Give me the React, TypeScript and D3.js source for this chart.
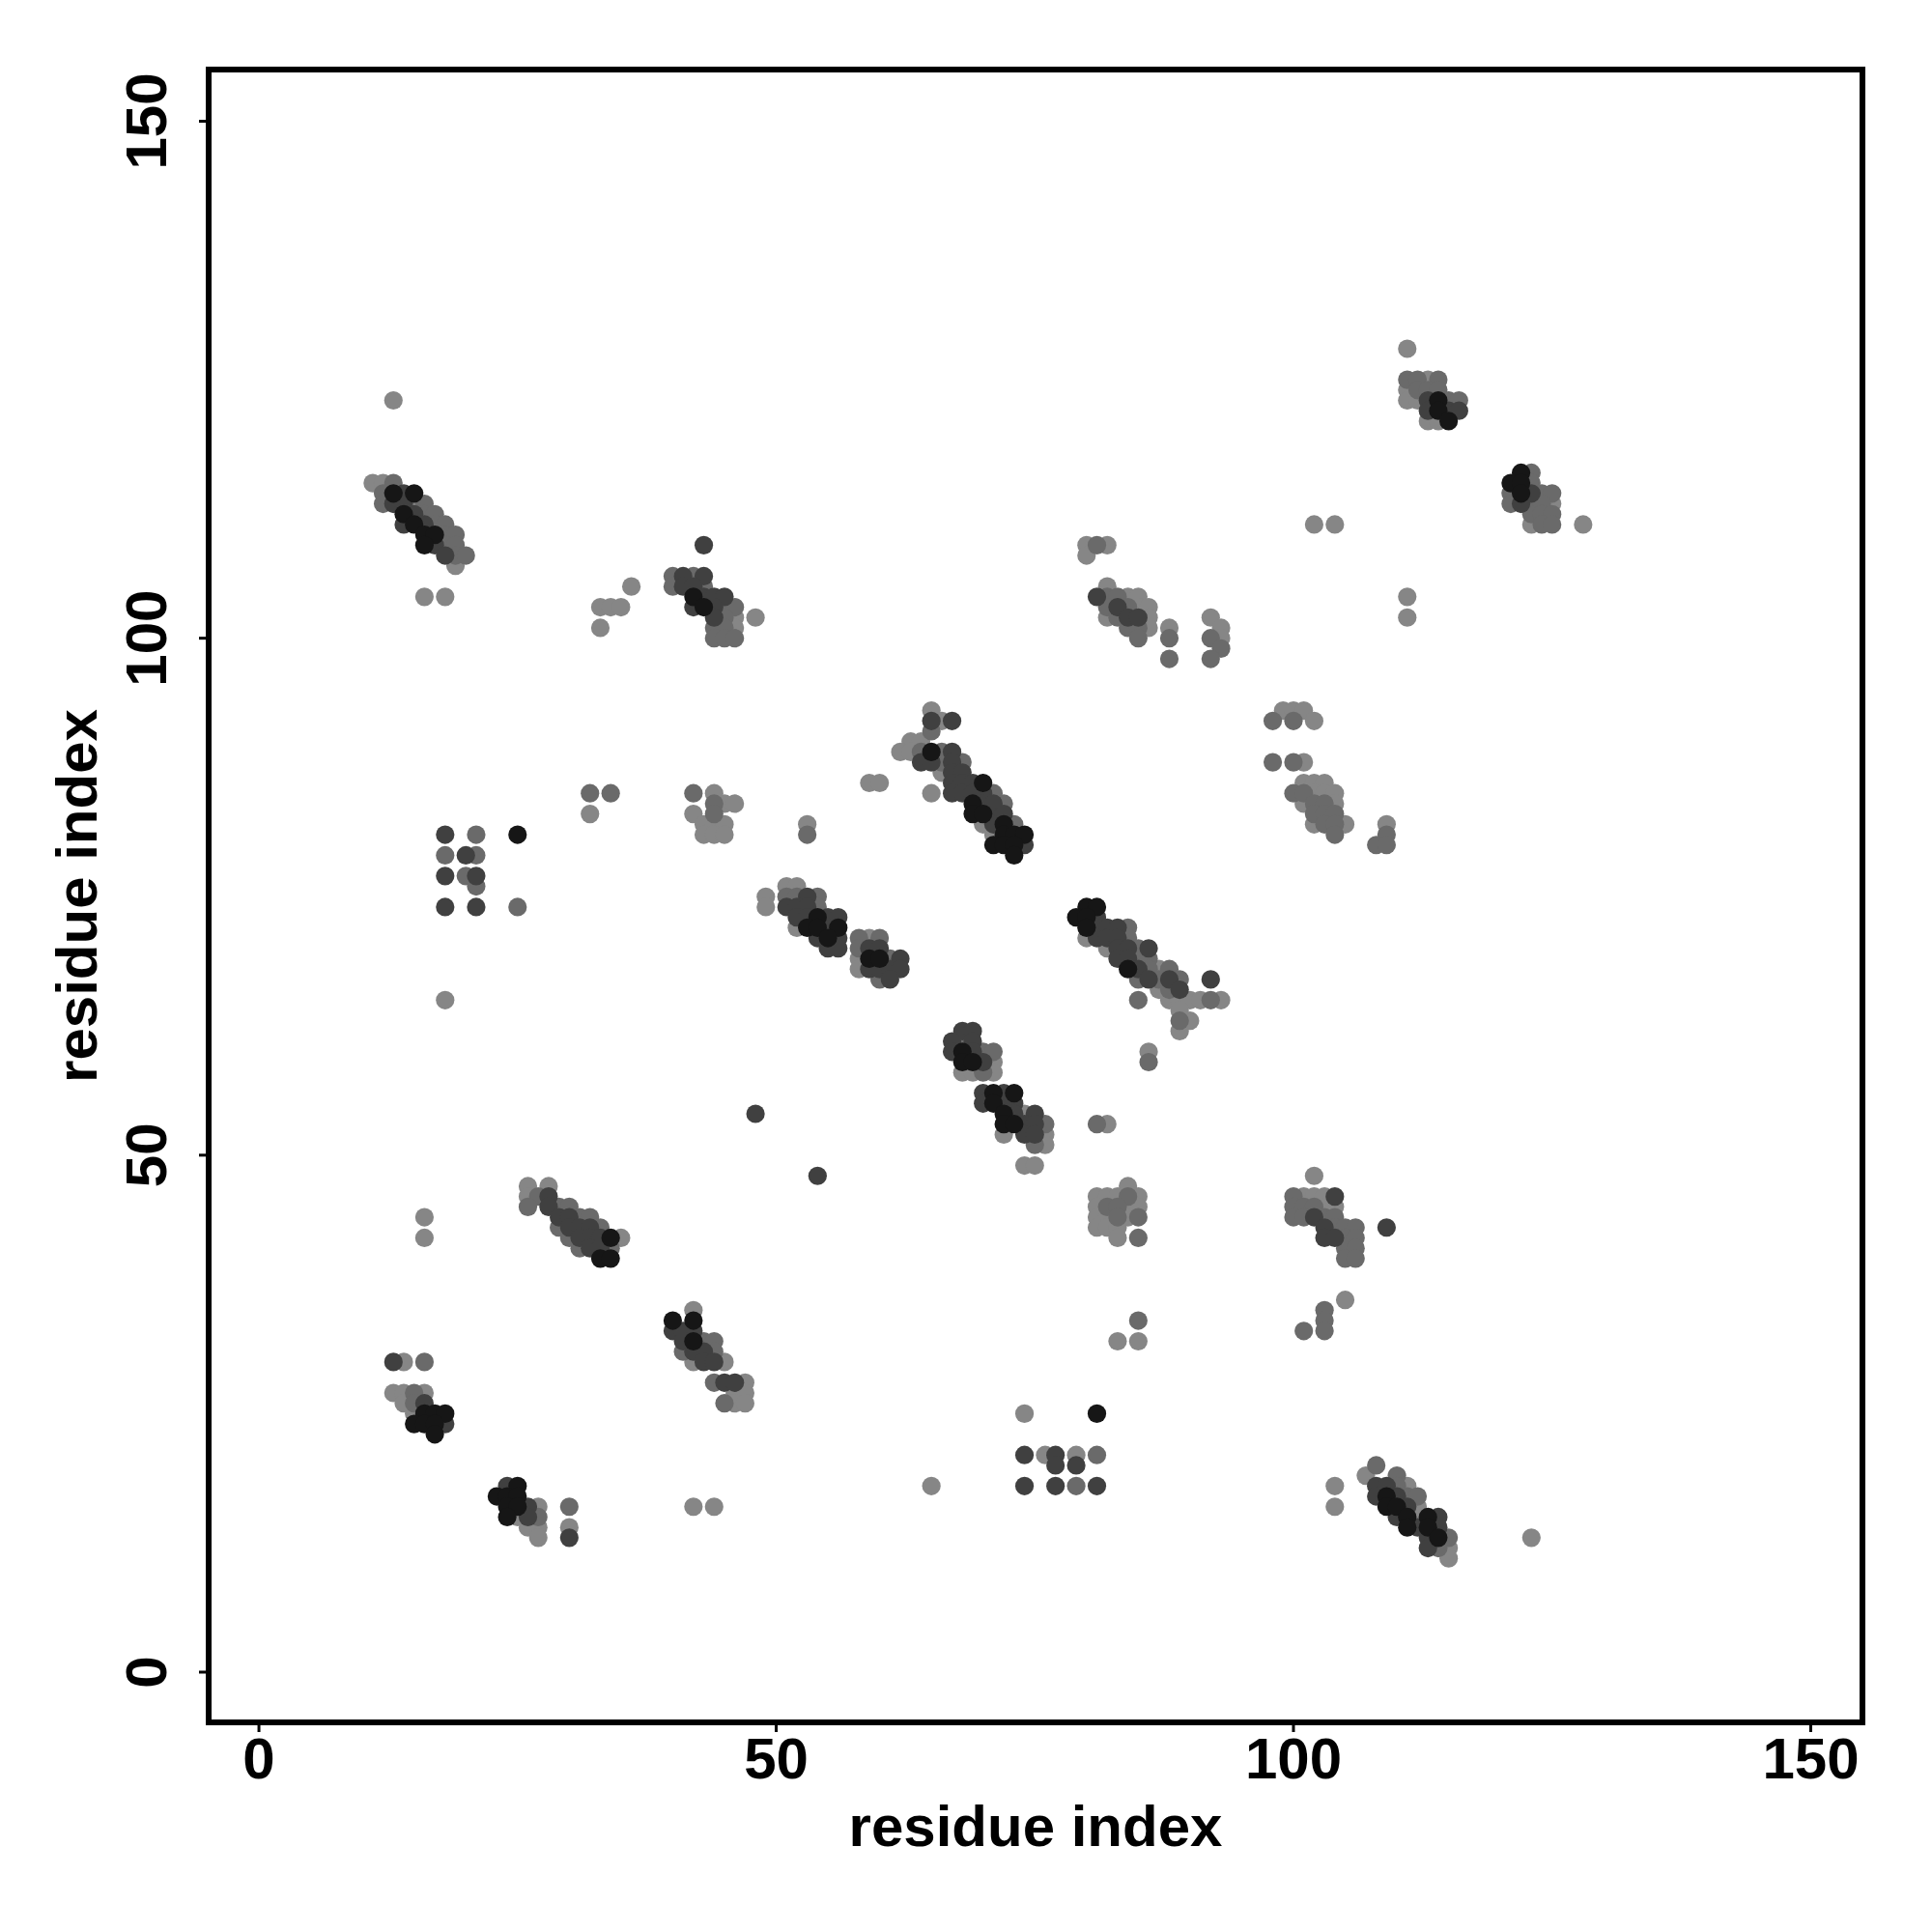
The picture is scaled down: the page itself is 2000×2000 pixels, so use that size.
import React from "react";
import * as d3 from "d3";

// contact strength levels (probability-like score)
const L = 0.1;
const M = 0.3;
const D = 0.6;
const K = 0.9;

type Pt = [number, number, number];

const xTicks = [0, 50, 100, 150];
const yTicks = [0, 50, 100, 150];
const xLabel = "residue index";
const yLabel = "residue index";

const c01: Pt[] = [
  [13, 123, L],
  [11, 115, L], [12, 115, L], [13, 115, M],
  [12, 114, M], [13, 114, K], [14, 114, D], [15, 114, K],
  [12, 113, M], [13, 113, D], [14, 113, D], [15, 113, L], [16, 113, M],
  [14, 112, K], [15, 112, D], [16, 112, M], [17, 112, M],
  [14, 111, D], [15, 111, K], [16, 111, D], [17, 111, M], [18, 111, M],
  [16, 110, K], [17, 110, K], [18, 110, M], [19, 110, M],
  [16, 109, K], [17, 109, D], [18, 109, M], [19, 109, M],
  [18, 108, D], [19, 108, M], [20, 108, M],
  [19, 107, L],
  [16, 104, L], [18, 104, L],
];

const c02: Pt[] = [
  [33, 103, L], [34, 103, L], [35, 103, L], [33, 101, L], [36, 105, L],
];

const c03: Pt[] = [
  [43, 109, D],
  [40, 106, M], [41, 106, D], [42, 106, M], [43, 106, D],
  [40, 105, M], [41, 105, D], [42, 105, D], [43, 105, M],
  [42, 104, K], [43, 104, D], [44, 104, D], [45, 104, D],
  [42, 103, D], [43, 103, K], [44, 103, D], [45, 103, M], [46, 103, M],
  [44, 102, D], [45, 102, M], [46, 102, L], [48, 102, L],
  [44, 101, M], [45, 101, M], [46, 101, L],
  [44, 100, M], [45, 100, M], [46, 100, M],
];

const c04: Pt[] = [
  [80, 109, L], [81, 109, M], [82, 109, L], [80, 108, L],
  [82, 105, L],
  [81, 104, D], [82, 104, M], [83, 104, M], [84, 104, L], [85, 104, L],
  [82, 103, M], [83, 103, D], [84, 103, M], [85, 103, L], [86, 103, L],
  [82, 102, L], [83, 102, M], [84, 102, D], [85, 102, D], [86, 102, L],
  [84, 101, M], [85, 101, M], [86, 101, L], [88, 101, L],
  [85, 100, M], [88, 100, M],
  [88, 98, M],
];

const c05: Pt[] = [
  [92, 102, L], [93, 101, L], [92, 100, M], [93, 100, L], [93, 99, M], [92, 98, M],
  [102, 111, L], [104, 111, L], [111, 104, L], [111, 102, L],
];

const c06: Pt[] = [
  [111, 128, L],
  [111, 125, M], [112, 125, M], [113, 125, L], [114, 125, M],
  [111, 124, L], [112, 124, M], [113, 124, M], [114, 124, M],
  [111, 123, L], [112, 123, L], [113, 123, D], [114, 123, K], [115, 123, M], [116, 123, M],
  [113, 122, D], [114, 122, K], [115, 122, D], [116, 122, D],
  [113, 121, L], [114, 121, L], [115, 121, K],
];

const c07: Pt[] = [
  [122, 116, K], [123, 116, M],
  [121, 115, K], [122, 115, K], [123, 115, M],
  [121, 114, M], [122, 114, K], [123, 114, D], [124, 114, M], [125, 114, M],
  [121, 113, M], [122, 113, D], [123, 113, M], [124, 113, M], [125, 113, L],
  [123, 112, M], [124, 112, M], [125, 112, M],
  [123, 111, L], [124, 111, M], [125, 111, M], [128, 111, L],
];

const c08: Pt[] = [
  [99, 93, L], [100, 93, L], [101, 93, L], [98, 92, M], [100, 92, M], [102, 92, L],
  [98, 88, M], [100, 88, M], [101, 88, L],
];

const c09: Pt[] = [
  [101, 86, L], [102, 86, L], [103, 86, L],
  [100, 85, M], [101, 85, M], [102, 85, L], [103, 85, L], [104, 85, L],
  [101, 84, L], [102, 84, M], [103, 84, M], [104, 84, L],
  [102, 83, M], [103, 83, M], [104, 83, M],
  [102, 82, L], [103, 82, M], [104, 82, M], [105, 82, L],
  [104, 81, M],
  [109, 82, L], [109, 81, M], [108, 80, M], [109, 80, M],
];

const c10: Pt[] = [
  [80, 74, K], [81, 74, K],
  [79, 73, K], [80, 73, K], [81, 73, D],
  [80, 72, K], [81, 72, D], [82, 72, D], [83, 72, D], [84, 72, M],
  [80, 71, L], [81, 71, D], [82, 71, D], [83, 71, D], [84, 71, M],
  [82, 70, L], [83, 70, D], [84, 70, D], [85, 70, M], [86, 70, D],
  [83, 69, D], [84, 69, D], [85, 69, M], [86, 69, M],
  [84, 68, K], [85, 68, D], [86, 68, M], [87, 68, L], [88, 68, M],
  [85, 67, M], [86, 67, D], [87, 67, M], [88, 67, D], [89, 67, M], [92, 67, D],
  [87, 66, L], [88, 66, M], [89, 66, D],
  [85, 65, M], [88, 65, L], [89, 65, L], [90, 65, L], [91, 65, L], [92, 65, M], [93, 65, L],
  [89, 64, L], [89, 63, M], [90, 63, L], [89, 62, L],
  [86, 60, L], [86, 59, M],
];

const c11: Pt[] = [
  [81, 53, M], [82, 53, L],
  [84, 47, L],
  [81, 46, L], [82, 46, L], [83, 46, L], [84, 46, M], [85, 46, L],
  [81, 45, L], [82, 45, M], [83, 45, M], [84, 45, L], [85, 45, L],
  [81, 44, L], [82, 44, L], [83, 44, M], [84, 44, L], [85, 44, M],
  [81, 43, L], [82, 43, L], [83, 43, L],
  [83, 42, L], [85, 42, M],
  [85, 34, M], [83, 32, L], [85, 32, L],
];

const c12: Pt[] = [
  [74, 25, L], [81, 25, K],
  [74, 21, D], [76, 21, L], [77, 21, D], [79, 21, L], [81, 21, M],
  [77, 20, D], [79, 20, D],
  [74, 18, D], [77, 18, D], [79, 18, M], [81, 18, D],
  [65, 18, L],
];

const c13: Pt[] = [
  [102, 48, L],
  [100, 46, M], [101, 46, L], [102, 46, L], [103, 46, L], [104, 46, D],
  [100, 45, M], [101, 45, M], [102, 45, M], [103, 45, L], [104, 45, L],
  [100, 44, M], [101, 44, M], [102, 44, D], [103, 44, M], [104, 44, M],
  [103, 43, D], [104, 43, M], [105, 43, M], [106, 43, M], [109, 43, D],
  [103, 42, D], [104, 42, D], [105, 42, M], [106, 42, M],
  [105, 41, M], [106, 41, M],
  [105, 40, M], [106, 40, M],
  [105, 36, L], [103, 35, M], [103, 34, M], [101, 33, M], [103, 33, M],
];

const c14: Pt[] = [
  [108, 20, M], [107, 19, L], [110, 19, M], [104, 18, L], [104, 16, L],
  [108, 18, D], [109, 18, D], [110, 18, M], [111, 18, L],
  [108, 17, D], [109, 17, K], [110, 17, D], [111, 17, M], [112, 17, M],
  [109, 16, K], [110, 16, K], [111, 16, D], [112, 16, L],
  [110, 15, D], [111, 15, K], [112, 15, L], [113, 15, K], [114, 15, D],
  [111, 14, K], [112, 14, D], [113, 14, K], [114, 14, D],
  [113, 13, D], [114, 13, K], [115, 13, M],
  [113, 12, D], [114, 12, M], [115, 12, L],
  [115, 11, L],
  [123, 13, L],
];

const c15: Pt[] = [
  [16, 44, L], [16, 42, L],
  [26, 47, L], [28, 47, L],
  [26, 46, L], [27, 46, M], [28, 46, D],
  [26, 45, M], [28, 45, D], [29, 45, M], [30, 45, M],
  [29, 44, D], [30, 44, D], [31, 44, M], [32, 44, M],
  [29, 43, M], [30, 43, D], [31, 43, D], [32, 43, D], [33, 43, M],
  [30, 42, M], [31, 42, D], [32, 42, D], [33, 42, D], [34, 42, K], [35, 42, L],
  [31, 41, M], [32, 41, D], [33, 41, D], [34, 41, M],
  [33, 40, K], [34, 40, K],
];

const c16: Pt[] = [
  [13, 30, D], [14, 30, L], [16, 30, M],
  [13, 27, L], [14, 27, L], [15, 27, M], [16, 27, L],
  [14, 26, L], [15, 26, M], [16, 26, D],
  [15, 25, L], [16, 25, K], [17, 25, K], [18, 25, K],
  [15, 24, K], [16, 24, K], [17, 24, K], [18, 24, D],
  [17, 23, K],
];

const c17: Pt[] = [
  [24, 18, D], [25, 18, K],
  [23, 17, K], [24, 17, K], [25, 17, K],
  [24, 16, K], [25, 16, K], [26, 16, D], [27, 16, L], [30, 16, M],
  [24, 15, K], [25, 15, L], [26, 15, D], [27, 15, M],
  [26, 14, L], [27, 14, L], [30, 14, L],
  [27, 13, L], [30, 13, D],
  [42, 16, L], [44, 16, L],
];

const c18: Pt[] = [
  [40, 34, K], [42, 35, L], [42, 34, K],
  [40, 33, D], [41, 33, D], [42, 33, D],
  [41, 32, D], [42, 32, K], [43, 32, M], [44, 32, M],
  [41, 31, M], [42, 31, D], [43, 31, D], [44, 31, M],
  [42, 30, L], [43, 30, D], [44, 30, D], [45, 30, L],
  [44, 28, M], [45, 28, D], [46, 28, D], [47, 28, L],
  [46, 27, L], [47, 27, L],
  [45, 26, M], [46, 26, L], [47, 26, L],
];

const c19: Pt[] = [
  [18, 81, D], [21, 81, M], [25, 81, K],
  [18, 79, M], [20, 79, D], [21, 79, M],
  [18, 77, D], [20, 77, M], [21, 77, D], [21, 76, M],
  [18, 74, D], [21, 74, D], [25, 74, M],
  [18, 65, L],
  [32, 85, M], [34, 85, M], [32, 83, L],
  [42, 85, M], [44, 85, L], [42, 83, L], [44, 84, M], [45, 84, L], [46, 84, L],
  [44, 83, M], [43, 82, L], [44, 82, L], [45, 82, L], [43, 81, L], [44, 81, L], [45, 81, L],
  [48, 54, D], [54, 48, D],
];

const c20: Pt[] = [
  [51, 76, L], [52, 76, L],
  [49, 75, L], [51, 75, M], [52, 75, M], [53, 75, D], [54, 75, M],
  [49, 74, L], [51, 74, D], [52, 74, D], [53, 74, D], [54, 74, M],
  [52, 73, D], [53, 73, D], [54, 73, K], [55, 73, D], [56, 73, D],
  [52, 72, L], [53, 72, K], [54, 72, K], [55, 72, D], [56, 72, K],
  [54, 71, D], [55, 71, K], [56, 71, D],
  [55, 70, D], [56, 70, D],
];

const c21: Pt[] = [
  [58, 71, M], [59, 71, L], [60, 71, M],
  [58, 70, M], [59, 70, D], [60, 70, D],
  [58, 69, L], [59, 69, K], [60, 69, K], [61, 69, M], [62, 69, D],
  [58, 68, L], [59, 68, D], [60, 68, D], [61, 68, D], [62, 68, D],
  [60, 67, M], [61, 67, D],
  [53, 82, L], [53, 81, M], [59, 86, L], [60, 86, L],
];

const c22: Pt[] = [
  [65, 93, L],
  [65, 92, D], [66, 92, L], [67, 92, D],
  [65, 91, M],
  [63, 90, L], [64, 90, L],
  [62, 89, L], [63, 89, L], [64, 89, M], [65, 89, K], [66, 89, M], [67, 89, D],
  [64, 88, D], [65, 88, D], [66, 88, M], [67, 88, D], [68, 88, M],
  [66, 87, L], [67, 87, D], [68, 87, D],
  [67, 86, D], [68, 86, D], [69, 86, D], [70, 86, K],
  [65, 85, L], [67, 85, D], [68, 85, D], [69, 85, D], [70, 85, D], [71, 85, M],
  [69, 84, K], [70, 84, D], [71, 84, D], [72, 84, M],
  [69, 83, K], [70, 83, K], [71, 83, D], [72, 83, D],
  [70, 82, L], [71, 82, D], [72, 82, K], [73, 82, M],
  [71, 81, L], [72, 81, K], [73, 81, K], [74, 81, K],
  [71, 80, K], [72, 80, K], [73, 80, K], [74, 80, D],
  [73, 79, K],
];

const c23: Pt[] = [
  [68, 62, D], [69, 62, D],
  [67, 61, D], [68, 61, M], [69, 61, D],
  [67, 60, D], [68, 60, K], [69, 60, D], [70, 60, M], [71, 60, M],
  [68, 59, K], [69, 59, K], [70, 59, D], [71, 59, L],
  [68, 58, L], [69, 58, L], [70, 58, M], [71, 58, L],
  [70, 56, D], [71, 56, K], [72, 56, D], [73, 56, K],
  [70, 55, D], [71, 55, K], [72, 55, D], [73, 55, D],
  [72, 54, K], [73, 54, D], [74, 54, L], [75, 54, D],
  [72, 53, K], [73, 53, K], [74, 53, D], [75, 53, D], [76, 53, M],
  [72, 52, L], [74, 52, D], [75, 52, D], [76, 52, L],
  [75, 51, M], [76, 51, L],
  [74, 49, L], [75, 49, L],
];

const contacts: Pt[] = [
  ...c01, ...c02, ...c03, ...c04, ...c05, ...c06, ...c07, ...c08, ...c09, ...c10, ...c11,
  ...c12, ...c13, ...c14, ...c15, ...c16, ...c17, ...c18, ...c19, ...c20, ...c21, ...c22, ...c23,
].sort((a, b) => a[2] - b[2]);

const W = 2000;
const H = 2000;
const box = { left: 216, right: 1928, top: 72, bottom: 1783 };

const x = d3.scaleLinear().domain([-4.86, 155]).range([box.left, box.right]);
const y = d3.scaleLinear().domain([-4.86, 155]).range([box.bottom, box.top]);
const grayScale = d3.scaleLinear().domain([0, 1]).range([148, 8]);
const color = (s: number) => {
  const g = Math.round(grayScale(s));
  return d3.rgb(g, g, g).formatHex();
};

const font = "'Liberation Sans', Arial, Helvetica, sans-serif";
const fs = 60;

export default function App() {
  return (
    <svg
      width={W}
      height={H}
      style={{ position: "absolute", left: 0, top: 0, background: "#fff" }}
      xmlns="http://www.w3.org/2000/svg"
    >
      <rect x={0} y={0} width={W} height={H} fill="#fff" />
      <g>
        {contacts.map((d, i) => (
          <circle key={i} cx={x(d[0])} cy={y(d[1])} r={9.6} fill={color(d[2])} />
        ))}
      </g>
      <rect
        x={box.left}
        y={box.top}
        width={box.right - box.left}
        height={box.bottom - box.top}
        fill="none"
        stroke="#000"
        strokeWidth={6}
      />
      {xTicks.map((t) => (
        <g key={"x" + t}>
          <line x1={x(t)} x2={x(t)} y1={box.bottom} y2={box.bottom + 10} stroke="#000" strokeWidth={3} />
          <text
            x={x(t)}
            y={1841}
            textAnchor="middle"
            fontFamily={font}
            fontWeight="bold"
            fontSize={fs}
          >
            {t}
          </text>
        </g>
      ))}
      {yTicks.map((t) => (
        <g key={"y" + t}>
          <line x1={box.left - 10} x2={box.left} y1={y(t)} y2={y(t)} stroke="#000" strokeWidth={3} />
          <text
            transform={`translate(172,${y(t)}) rotate(-90)`}
            textAnchor="middle"
            fontFamily={font}
            fontWeight="bold"
            fontSize={fs}
          >
            {t}
          </text>
        </g>
      ))}
      <text
        x={(box.left + box.right) / 2}
        y={1911}
        textAnchor="middle"
        fontFamily={font}
        fontWeight="bold"
        fontSize={fs}
      >
        {xLabel}
      </text>
      <text
        transform={`translate(100,${(box.top + box.bottom) / 2}) rotate(-90)`}
        textAnchor="middle"
        fontFamily={font}
        fontWeight="bold"
        fontSize={fs}
      >
        {yLabel}
      </text>
    </svg>
  );
}
